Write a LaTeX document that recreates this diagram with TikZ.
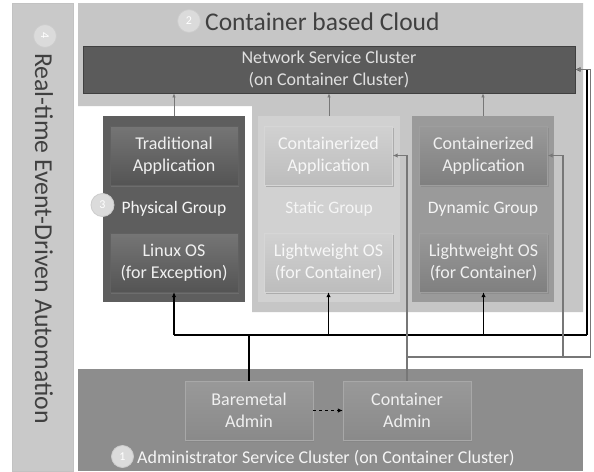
\documentclass[tikz,border=0pt]{standalone}
\usepackage{fontspec}
\setmainfont{Carlito}
\usetikzlibrary{shadows,arrows.meta}

\definecolor{barbg}{HTML}{C9C9C9}
\definecolor{cloudbg}{HTML}{C6C6C6}
\definecolor{adminbg}{HTML}{8D8D8D}
\definecolor{physbg}{HTML}{5E5E5E}
\definecolor{statbg}{HTML}{D1D1D1}
\definecolor{dynbg}{HTML}{9A9A9A}
\definecolor{netbg}{HTML}{5B5B5B}
\definecolor{titlegray}{HTML}{404040}
\definecolor{linkgray}{HTML}{777777}

\tikzset{
  box/.style={rectangle, minimum width=128pt, minimum height=59pt, inner sep=2pt,
    align=center, font=\fontsize{18}{22}\selectfont, text=white!94!black,
    drop shadow={opacity=0.45, shadow xshift=1.2pt, shadow yshift=-1.6pt}},
  pbox/.style={box, top color=black!54, bottom color=black!67, draw=black!62},
  sbox/.style={box, top color=black!18, bottom color=black!26, draw=black!16, text=white!97!black},
  dbox/.style={box, top color=black!40, bottom color=black!50, draw=black!38},
  abox/.style={box, top color=black!40, bottom color=black!46, draw=black!34},
  grp/.style={rectangle, inner sep=0pt, minimum width=142pt, minimum height=186pt},
  glabel/.style={font=\fontsize{17.5}{21}\selectfont, text=white!96!black},
  numcirc/.style={circle, inner sep=0pt, minimum size=23pt, fill=black!14, draw=white!80!black,
    line width=0.8pt, text=white, font=\fontsize{12}{12}\selectfont},
  uplink/.style={draw=linkgray, line width=1pt, -{Latex[length=4pt,width=3.5pt]}},
  busline/.style={draw=black, line width=1.5pt},
  busarrow/.style={busline, -{Latex[length=5pt,width=4.5pt]}},
  adminlink/.style={draw=linkgray, line width=1.2pt},
  adminarrow/.style={adminlink, -{Latex[length=5pt,width=4.5pt]}}
}

\begin{document}
\begin{tikzpicture}[x=1pt,y=-1pt]
\useasboundingbox (0,0) rectangle (594,471);
\fill[white] (0,0) rectangle (594,471);

% background regions
\filldraw[fill=barbg, draw=black!24] (12,3) rectangle (73,471);
\fill[cloudbg] (78,3) -- (583,3) -- (583,312) -- (252,312) -- (252,106) -- (78,106) -- cycle;
\fill[adminbg] (78,369) rectangle (583,471);

% real-time automation band
\node[numcirc, rotate=-90] (n4) at (45,36) {4};
\node[rotate=-90, font=\fontsize{25.8}{26}\selectfont, text=titlegray] (rta) at (44,238.5) {Real-time Event-Driven Automation};

% container based cloud title
\node[numcirc] (n2) at (189,21) {2};
\node[anchor=west, font=\fontsize{25.5}{26}\selectfont, text=titlegray, inner sep=0pt] (cloudt) at (205,22) {Container based Cloud};

% network service cluster
\node[rectangle, fill=netbg, draw=black!75, line width=0.8pt, minimum width=492pt, minimum height=47pt,
  align=center, font=\fontsize{18}{22}\selectfont, text=white!88!black] (net) at (329,69.5)
  {Network Service Cluster\\(on Container Cluster)};

% groups
\node[grp, fill=physbg] (phys) at (174,209) {};
\node[grp, fill=statbg] (stat) at (329,209) {};
\node[grp, fill=dynbg] (dyn) at (483,209) {};

\node[pbox] (trad) at (174,155.5) {Traditional\\Application};
\node[pbox] (linux) at (174,262.5) {Linux OS\\(for Exception)};
\node[sbox] (csA) at (328.5,155.5) {Containerized\\Application};
\node[sbox] (lwS) at (328.5,262.5) {Lightweight OS\\(for Container)};
\node[dbox] (cdA) at (483.5,155.5) {Containerized\\Application};
\node[dbox] (lwD) at (483.5,262.5) {Lightweight OS\\(for Container)};

\node[glabel] (physl) at (174,209) {Physical Group};
\node[numcirc] (n3) at (102.5,205) {3};
\node[glabel] (statl) at (329,209) {Static Group};
\node[glabel] (dynl) at (483,209) {Dynamic Group};

% administrator service cluster
\node[abox] (bm) at (249,410.5) {Baremetal\\Admin};
\node[abox] (ca) at (407,410.5) {Container\\Admin};
\node[numcirc, minimum size=22pt] (n1) at (122.5,456.5) {1};
\node[anchor=west, inner sep=0pt, font=\fontsize{18}{18}\selectfont, text=white!96!black] (adminl) at (137,458) {Administrator Service Cluster (on Container Cluster)};

% groups report to the network service cluster
\draw[uplink] (phys.north) -- (phys.north |- net.south);
\draw[uplink] (stat.north) -- (stat.north |- net.south);
\draw[uplink] (dyn.north) -- (dyn.north |- net.south);

% baremetal provisioning bus
\coordinate (busL) at (174,335);
\coordinate (busR) at (587,335);
\draw[busline] (linux.south |- busL) -- (busR);
\draw[busline] (bm.north) -- (bm.north |- busL);
\draw[busarrow] (linux.south |- busL) -- (linux.south);
\draw[busarrow] (lwS.south |- busL) -- (lwS.south);
\draw[busarrow] (lwD.south |- busL) -- (lwD.south);
\draw[busarrow] (busR) |- (net.east);

% container deployment links
\coordinate (gR1) at (563,357);
\coordinate (gR2) at (590.5,357);
\draw[adminarrow] (ca.north) |- (csA.east);
\draw[adminarrow] (ca.north |- gR1) -- (gR1) |- (cdA.east);
\draw[adminarrow] (gR1) -- (gR2) |- (net.east);

% baremetal admin hands over to container admin
\draw[busarrow, line width=1.3pt, dashed] (bm.east) -- (ca.west);
\end{tikzpicture}
\end{document}
